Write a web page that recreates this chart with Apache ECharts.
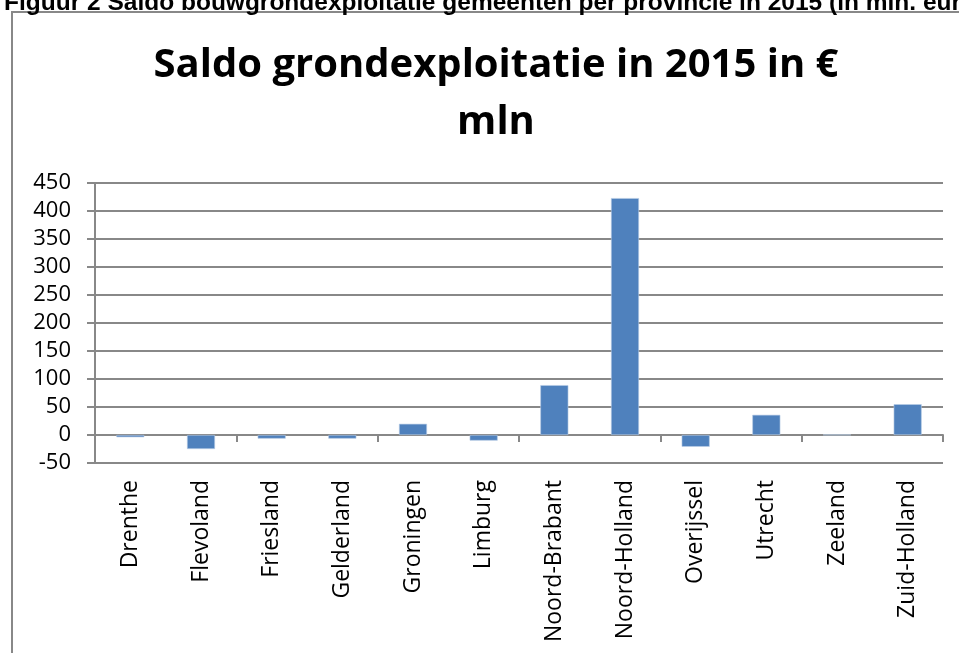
<!DOCTYPE html>
<html>
<head>
<meta charset="utf-8">
<script src="https://cdn.jsdelivr.net/npm/echarts@6/dist/echarts.min.js"></script>
<style>html,body{margin:0;padding:0;background:#fff}#c{width:959px;height:653px}</style>
</head>
<body>
<div id="c"></div>
<script>
const categories = ['Drenthe','Flevoland','Friesland','Gelderland','Groningen','Limburg','Noord-Brabant','Noord-Holland','Overijssel','Utrecht','Zeeland','Zuid-Holland'];
const saldo = [-4, -25, -6.5, -6.5, 20, -10, 89, 423, -21, 36, 0.5, 55];
const yTicks = {min: -50, max: 450, interval: 50};
const chartTitle = 'Saldo grondexploitatie in 2015 in €\nmln';
const caption = 'Figuur 2 Saldo bouwgrondexploitatie gemeenten per provincie in 2015 (in mln. euro)';

const chart = echarts.init(document.getElementById('c'));
chart.setOption({
  animation: false,
  backgroundColor: '#fff',
  title: {
    text: chartTitle,
    left: 491, top: 32, textAlign: 'center',
    textStyle: {fontFamily: 'Open Sans', fontWeight: 'bold', fontSize: 40, lineHeight: 57, color: '#000'}
  },
  graphic: [
    {type: 'rect', shape: {x: 12, y: 12, width: 1000, height: 700}, style: {fill: 'none', stroke: '#888', lineWidth: 2}, z: -1},
    {type: 'text', left: 4, top: -9, style: {text: caption, font: 'bold 24.5px "Liberation Sans"', fill: '#000'}}
  ],
  grid: {left: 95, right: 16, top: 183, bottom: 190},
  xAxis: [
    {type: 'category', data: categories, position: 'bottom',
     axisLine: {show: false, onZero: false}, axisTick: {show: false},
     axisLabel: {rotate: 90, margin: 17, fontFamily: 'Open Sans', fontSize: 23, color: '#000'}},
    {type: 'category', data: categories, position: 'top',
     axisLine: {show: true, onZero: true, lineStyle: {color: '#888', width: 2}},
     axisTick: {show: true, inside: true, length: 7, lineStyle: {color: '#888', width: 2}},
     axisLabel: {show: false}}
  ],
  yAxis: {
    type: 'value', min: yTicks.min, max: yTicks.max, interval: yTicks.interval,
    axisLine: {show: true, lineStyle: {color: '#888', width: 2}},
    axisTick: {show: true, length: 8, lineStyle: {color: '#888', width: 2}},
    splitLine: {show: true, lineStyle: {color: '#888', width: 2}},
    axisLabel: {margin: 24, fontFamily: 'Open Sans', fontSize: 22, color: '#000'}
  },
  series: [{
    type: 'bar', data: saldo, xAxisIndex: 0, barWidth: 28,
    itemStyle: {color: '#4F81BD', borderColor: '#B9CDE5', borderWidth: 0.6}
  }]
});
</script>
</body>
</html>
